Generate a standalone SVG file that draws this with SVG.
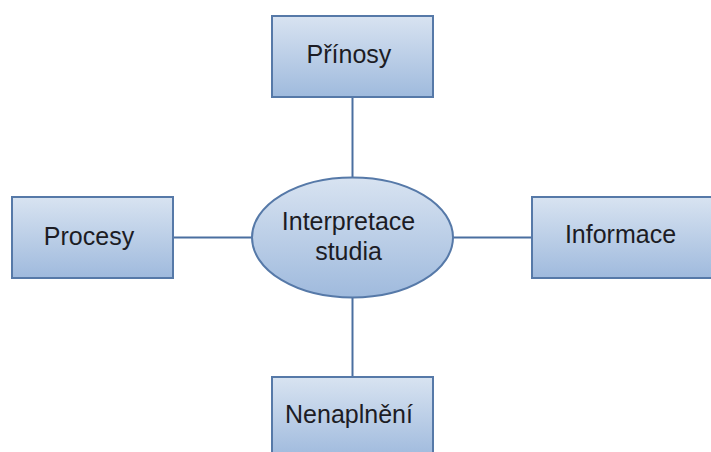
<svg xmlns="http://www.w3.org/2000/svg" width="711" height="452" viewBox="0 0 711 452">
  <defs>
    <linearGradient id="g" x1="0" y1="0" x2="0" y2="1">
      <stop offset="0" stop-color="#d8e3f1"/>
      <stop offset="1" stop-color="#9fbadd"/>
    </linearGradient>
    <style>
      .box { fill: url(#g); stroke: #5679a8; stroke-width: 2; }
      .edge { stroke: #4a6fa0; stroke-width: 2; fill: none; }
      .t { font-family: "Liberation Sans", Arial, sans-serif; font-size: 25px; fill: #1c1c24; text-anchor: middle; }
    </style>
  </defs>
  <rect width="711" height="452" fill="#ffffff"/>
  <g id="connectors">
    <line class="edge" x1="352.5" y1="97" x2="352.5" y2="178"/>
    <line class="edge" x1="352.5" y1="297" x2="352.5" y2="377"/>
    <line class="edge" x1="173" y1="237.5" x2="252" y2="237.5"/>
    <line class="edge" x1="453" y1="237.5" x2="532" y2="237.5"/>
  </g>
  <g id="prinosy">
    <rect class="box" x="272" y="16" width="161" height="81"/>
    <text class="t" x="349" y="63">Přínosy</text>
  </g>
  <g id="procesy">
    <rect class="box" x="12" y="197" width="161" height="81"/>
    <text class="t" x="89" y="245">Procesy</text>
  </g>
  <g id="informace">
    <rect class="box" x="532" y="197" width="184" height="81"/>
    <text class="t" x="620.5" y="243">Informace</text>
  </g>
  <g id="nenaplneni">
    <rect class="box" x="272" y="377" width="161" height="81"/>
    <text class="t" x="349" y="423">Nenaplnění</text>
  </g>
  <g id="interpretace">
    <ellipse class="box" cx="352.5" cy="237.5" rx="100.5" ry="60"/>
    <text class="t" x="348.5" y="230">Interpretace</text>
    <text class="t" x="348.5" y="260">studia</text>
  </g>
</svg>
